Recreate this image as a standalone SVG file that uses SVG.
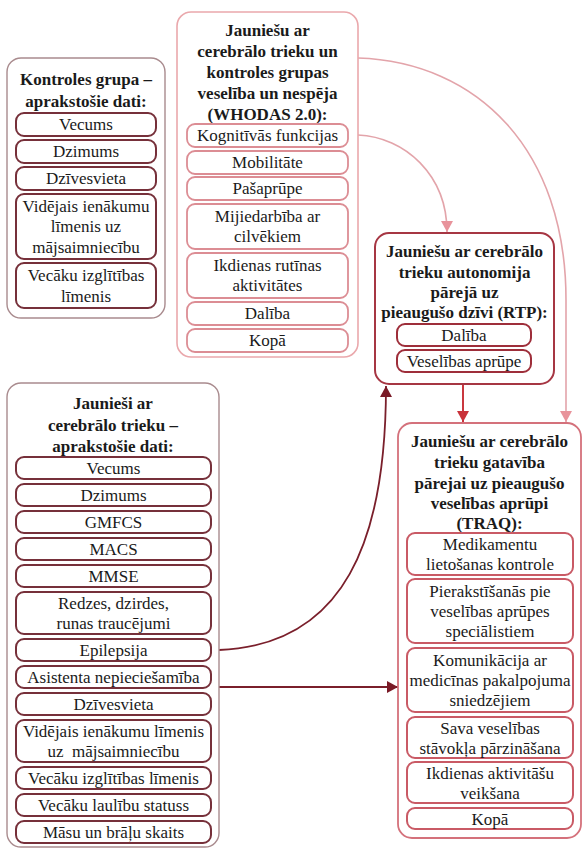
<svg xmlns="http://www.w3.org/2000/svg" width="583" height="850" viewBox="0 0 583 850">
<style>
.t{font-family:"Liberation Serif","Times New Roman",serif;font-size:17px;fill:#1a1a1a;text-anchor:middle}
.b{font-weight:bold}
.oa{fill:#fff;stroke:#a98b8e;stroke-width:1.4}
.ia{fill:#fff;stroke:#76303a;stroke-width:2}
.op{fill:#fff;stroke:#eaa8ac;stroke-width:1.6}
.ip{fill:#fff;stroke:#dc8d94;stroke-width:1.8}
.or{fill:#fff;stroke:#a63643;stroke-width:2}
.ir{fill:#fff;stroke:#9e2e3a;stroke-width:2}
.om{fill:#fff;stroke:#d4717b;stroke-width:1.8}
.im{fill:#fff;stroke:#c95a65;stroke-width:2}
.cp{fill:none;stroke:#e3a4aa;stroke-width:1.6}
.cr{fill:none;stroke:#c9383f;stroke-width:2}
.cd{fill:none;stroke:#7a1f2b;stroke-width:1.8}
</style>
<defs>
<marker id="ap" markerUnits="userSpaceOnUse" markerWidth="14" markerHeight="14" refX="11" refY="6" orient="auto"><path d="M0,0 L11,6 L0,12 Z" fill="#e8939b"/></marker>
<marker id="ar" markerUnits="userSpaceOnUse" markerWidth="14" markerHeight="14" refX="11" refY="6" orient="auto"><path d="M0,0 L11,6 L0,12 Z" fill="#c9323a"/></marker>
<marker id="ad" markerUnits="userSpaceOnUse" markerWidth="14" markerHeight="14" refX="11" refY="6" orient="auto"><path d="M0,0 L11,6 L0,12 Z" fill="#7a1a26"/></marker>
</defs>

<g id="connectors">
<path class="cp" d="M358,58 C478,62 566,150 566,300 L566,422" marker-end="url(#ap)"/>
<path class="cp" d="M358,135 C405,137 447,175 447,232" marker-end="url(#ap)"/>
<path class="cr" d="M463,384 L463,422" marker-end="url(#ar)"/>
<path class="cd" d="M219,650 C345,645 386,540 386,386" marker-end="url(#ad)"/>
<path class="cd" d="M219,687 L398,687" marker-end="url(#ad)"/>
</g>

<g id="control">
<rect class="oa" x="7" y="58" width="158" height="260" rx="14"/>
<text class="t b" x="86" y="85">Kontroles grupa –</text>
<text class="t b" x="86" y="107">aprakstošie dati:</text>
<rect class="ia" x="16" y="113" width="140" height="23" rx="8"/>
<text class="t" x="86" y="130">Vecums</text>
<rect class="ia" x="16" y="140" width="140" height="23" rx="8"/>
<text class="t" x="86" y="157">Dzimums</text>
<rect class="ia" x="16" y="167" width="140" height="23" rx="8"/>
<text class="t" x="86" y="184">Dzīvesvieta</text>
<rect class="ia" x="16" y="194" width="140" height="65" rx="8"/>
<text class="t" x="86" y="211.5">Vidējais ienākumu</text>
<text class="t" x="86" y="232">līmenis uz</text>
<text class="t" x="86" y="252.5">mājsaimniecību</text>
<rect class="ia" x="16" y="263" width="140" height="45" rx="8"/>
<text class="t" x="86" y="280.5">Vecāku izglītības</text>
<text class="t" x="86" y="301.5">līmenis</text>
</g>

<g id="whodas">
<rect class="op" x="177" y="12" width="181" height="345" rx="14"/>
<text class="t b" x="267.5" y="36">Jauniešu ar</text>
<text class="t b" x="267.5" y="57">cerebrālo trieku un</text>
<text class="t b" x="267.5" y="78">kontroles grupas</text>
<text class="t b" x="267.5" y="99">veselība un nespēja</text>
<text class="t b" x="267.5" y="120">(WHODAS 2.0):</text>
<rect class="ip" x="187" y="124" width="161" height="23" rx="8"/>
<text class="t" x="267.5" y="141">Kognitīvās funkcijas</text>
<rect class="ip" x="187" y="151" width="161" height="23" rx="8"/>
<text class="t" x="267.5" y="168">Mobilitāte</text>
<rect class="ip" x="187" y="177" width="161" height="23" rx="8"/>
<text class="t" x="267.5" y="194">Pašaprūpe</text>
<rect class="ip" x="187" y="204" width="161" height="45" rx="8"/>
<text class="t" x="267.5" y="221.5">Mijiedarbība ar</text>
<text class="t" x="267.5" y="242">cilvēkiem</text>
<rect class="ip" x="187" y="253" width="161" height="45" rx="8"/>
<text class="t" x="267.5" y="270.5">Ikdienas rutīnas</text>
<text class="t" x="267.5" y="291">aktivitātes</text>
<rect class="ip" x="187" y="302" width="161" height="23" rx="8"/>
<text class="t" x="267.5" y="319">Dalība</text>
<rect class="ip" x="187" y="329" width="161" height="23" rx="8"/>
<text class="t" x="267.5" y="346">Kopā</text>
</g>

<g id="rtp">
<rect class="or" x="375" y="233" width="179" height="151" rx="14"/>
<text class="t b" x="464.5" y="257">Jauniešu ar cerebrālo</text>
<text class="t b" x="464.5" y="278">trieku autonomija</text>
<text class="t b" x="464.5" y="298">pārejā uz</text>
<text class="t b" x="464.5" y="318">pieaugušo dzīvi (RTP):</text>
<rect class="ir" x="397" y="324" width="134" height="22" rx="8"/>
<text class="t" x="464" y="341">Dalība</text>
<rect class="ir" x="397" y="350" width="134" height="22" rx="8"/>
<text class="t" x="464" y="367">Veselības aprūpe</text>
</g>

<g id="youth">
<rect class="oa" x="7" y="383" width="212" height="464" rx="14"/>
<text class="t b" x="113" y="409">Jaunieši ar</text>
<text class="t b" x="113" y="431">cerebrālo trieku –</text>
<text class="t b" x="113" y="452">aprakstošie dati:</text>
<rect class="ia" x="16" y="457" width="195" height="22" rx="8"/>
<text class="t" x="113.5" y="474">Vecums</text>
<rect class="ia" x="16" y="484" width="195" height="22" rx="8"/>
<text class="t" x="113.5" y="501">Dzimums</text>
<rect class="ia" x="16" y="511" width="195" height="22" rx="8"/>
<text class="t" x="113.5" y="528">GMFCS</text>
<rect class="ia" x="16" y="538" width="195" height="22" rx="8"/>
<text class="t" x="113.5" y="555">MACS</text>
<rect class="ia" x="16" y="565" width="195" height="22" rx="8"/>
<text class="t" x="113.5" y="582">MMSE</text>
<rect class="ia" x="16" y="592" width="195" height="42" rx="8"/>
<text class="t" x="113.5" y="609">Redzes, dzirdes,</text>
<text class="t" x="113.5" y="629">runas traucējumi</text>
<rect class="ia" x="16" y="639" width="195" height="22" rx="8"/>
<text class="t" x="113.5" y="656">Epilepsija</text>
<rect class="ia" x="16" y="666" width="195" height="22" rx="8"/>
<text class="t" x="113.5" y="683">Asistenta nepieciešamība</text>
<rect class="ia" x="16" y="693" width="195" height="22" rx="8"/>
<text class="t" x="113.5" y="710">Dzīvesvieta</text>
<rect class="ia" x="16" y="720" width="195" height="42" rx="8"/>
<text class="t" x="113.5" y="737">Vidējais ienākumu līmenis</text>
<text class="t" x="113.5" y="757" xml:space="preserve">uz  mājsaimniecību</text>
<rect class="ia" x="16" y="767" width="195" height="22" rx="8"/>
<text class="t" x="113.5" y="784">Vecāku izglītības līmenis</text>
<rect class="ia" x="16" y="794" width="195" height="22" rx="8"/>
<text class="t" x="113.5" y="811">Vecāku laulību statuss</text>
<rect class="ia" x="16" y="821" width="195" height="22" rx="8"/>
<text class="t" x="113.5" y="838">Māsu un brāļu skaits</text>
</g>

<g id="traq">
<rect class="om" x="398" y="423" width="183" height="415" rx="14"/>
<text class="t b" x="489.5" y="447">Jauniešu ar cerebrālo</text>
<text class="t b" x="489.5" y="468">trieku gatavība</text>
<text class="t b" x="489.5" y="489">pārejai uz pieaugušo</text>
<text class="t b" x="489.5" y="509">veselības aprūpi</text>
<text class="t b" x="489.5" y="529">(TRAQ):</text>
<rect class="im" x="407" y="533" width="166" height="42" rx="8"/>
<text class="t" x="490" y="550">Medikamentu</text>
<text class="t" x="490" y="570">lietošanas kontrole</text>
<rect class="im" x="407" y="579" width="166" height="64" rx="8"/>
<text class="t" x="490" y="597">Pierakstīšanās pie</text>
<text class="t" x="490" y="617">veselības aprūpes</text>
<text class="t" x="490" y="637">speciālistiem</text>
<rect class="im" x="407" y="648" width="166" height="64" rx="8"/>
<text class="t" x="490" y="666">Komunikācija ar</text>
<text class="t" x="490" y="686">medicīnas pakalpojuma</text>
<text class="t" x="490" y="706">sniedzējiem</text>
<rect class="im" x="407" y="717" width="166" height="41" rx="8"/>
<text class="t" x="490" y="734">Sava veselības</text>
<text class="t" x="490" y="754">stāvokļa pārzināšana</text>
<rect class="im" x="407" y="762" width="166" height="41" rx="8"/>
<text class="t" x="490" y="779">Ikdienas aktivitāšu</text>
<text class="t" x="490" y="799">veikšana</text>
<rect class="im" x="407" y="808" width="166" height="21" rx="8"/>
<text class="t" x="490" y="824.5">Kopā</text>
</g>
</svg>
